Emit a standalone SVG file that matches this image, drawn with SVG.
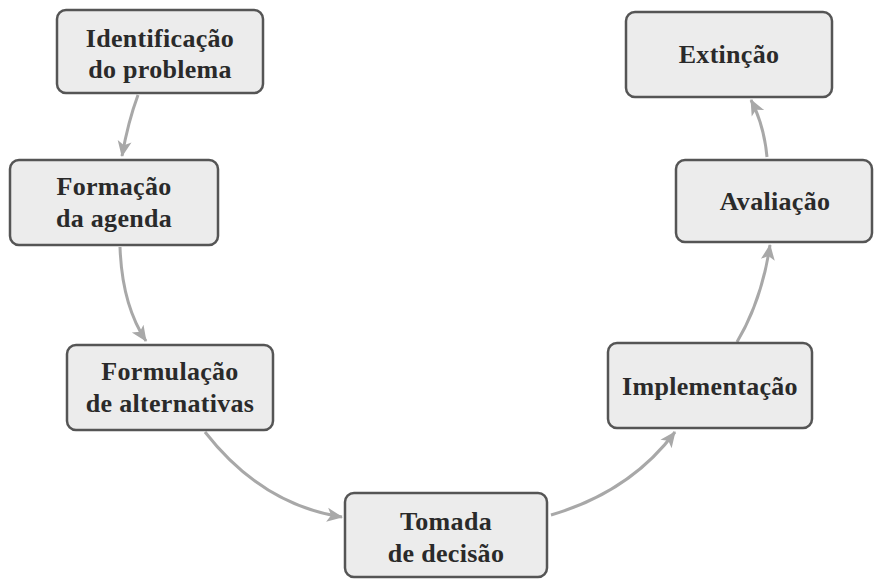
<svg xmlns="http://www.w3.org/2000/svg" width="874" height="579" viewBox="0 0 874 579">
<style>
.box{fill:#ececec;stroke:#555;stroke-width:2.5}
.t{font-family:"Liberation Serif","DejaVu Serif",serif;font-size:26px;font-weight:bold;fill:#2a2a2a;text-anchor:middle;letter-spacing:0.3px}
.c{fill:none;stroke:#a8a8a8;stroke-width:3;marker-end:url(#ah)}
</style>
<defs>
<marker id="ah" markerUnits="userSpaceOnUse" markerWidth="18" markerHeight="16" refX="15" refY="7" orient="auto" viewBox="0 0 18 14">
<path d="M0,0 L16,7 L0,14 L4,7 Z" fill="#a8a8a8"/>
</marker>
</defs>
<rect width="874" height="579" fill="#fff"/>
<g id="connectors">
<path class="c" d="M138,95 Q128,122 122,156"/>
<path class="c" d="M120,247 Q122,305 146,341"/>
<path class="c" d="M205,432 Q262,505 342,517"/>
<path class="c" d="M551,515 Q630,492 675,432"/>
<path class="c" d="M737,342 Q762,300 770,245"/>
<path class="c" d="M767,157 Q764,125 751,100"/>
</g>
<g id="n1"><rect class="box" x="57" y="10" width="206" height="83" rx="9"/><text class="t" x="160" y="47">Identificação</text><text class="t" x="160" y="78">do problema</text></g>
<g id="n2"><rect class="box" x="10" y="160" width="208" height="85" rx="9"/><text class="t" x="114" y="195">Formação</text><text class="t" x="114" y="227">da agenda</text></g>
<g id="n3"><rect class="box" x="67" y="345" width="206" height="85" rx="9"/><text class="t" x="170" y="380">Formulação</text><text class="t" x="170" y="412">de alternativas</text></g>
<g id="n4"><rect class="box" x="345" y="493" width="202" height="84" rx="9"/><text class="t" x="446" y="530">Tomada</text><text class="t" x="446" y="562">de decisão</text></g>
<g id="n5"><rect class="box" x="608" y="343" width="204" height="85" rx="9"/><text class="t" x="710" y="395">Implementação</text></g>
<g id="n6"><rect class="box" x="626" y="12" width="206" height="85" rx="9"/><text class="t" x="729" y="63">Extinção</text></g>
<g id="n7"><rect class="box" x="676" y="160" width="196" height="82" rx="9"/><text class="t" x="775" y="210">Avaliação</text></g>
</svg>
